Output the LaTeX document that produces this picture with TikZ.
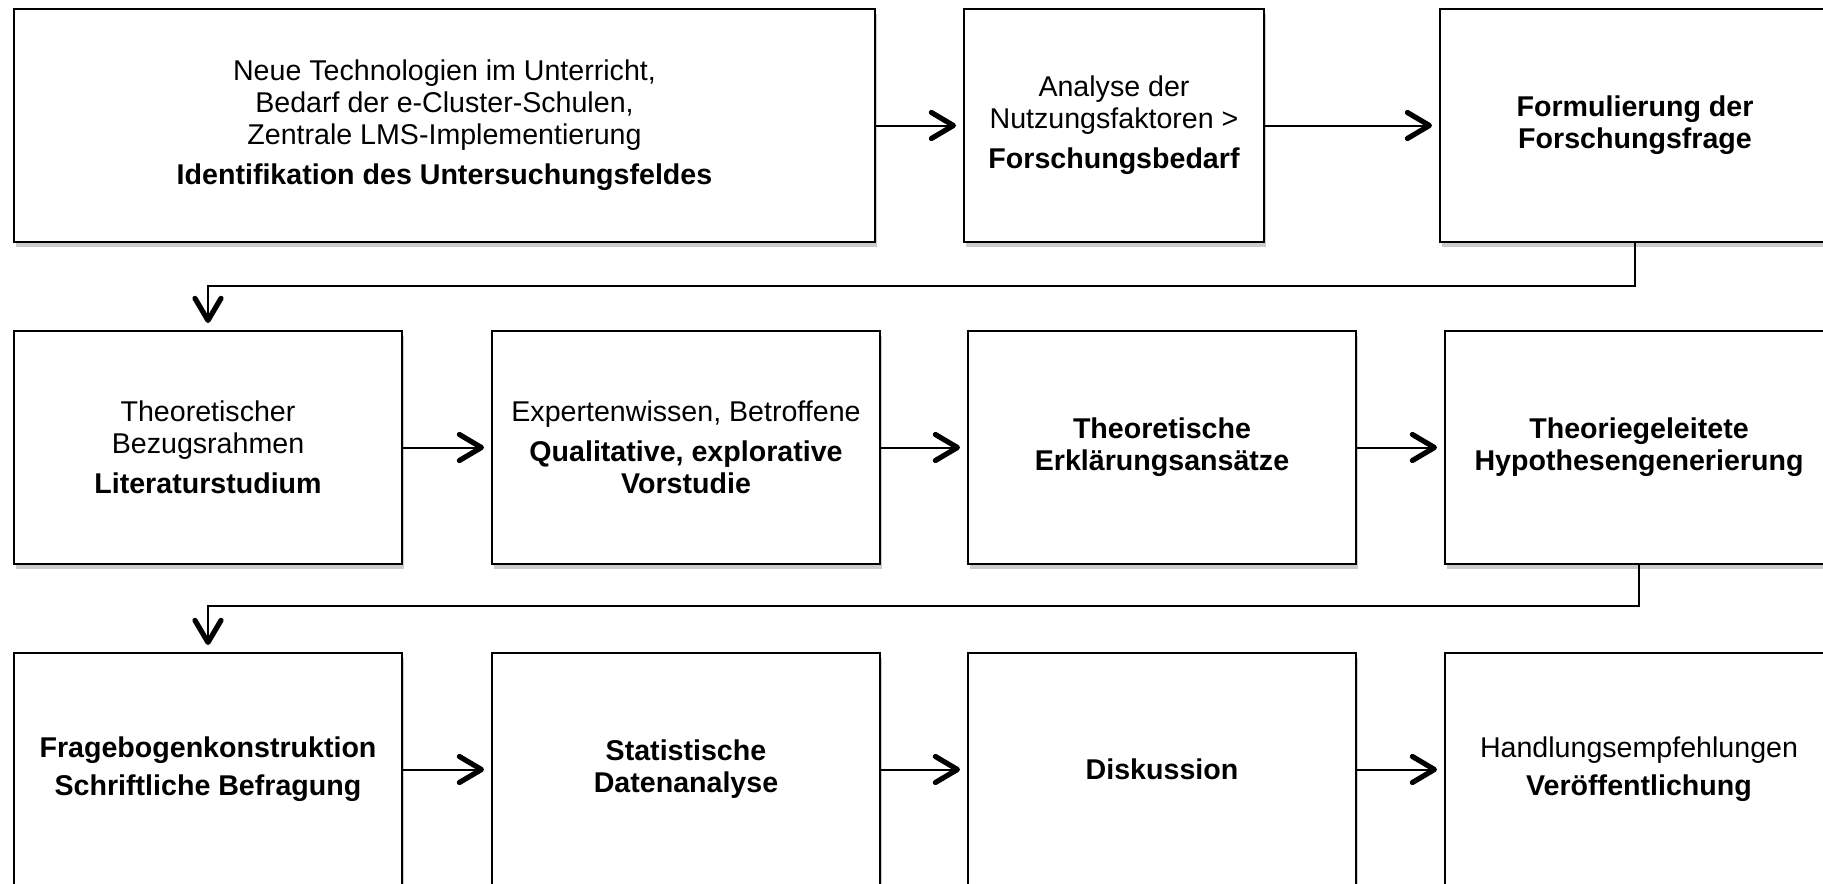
\documentclass[tikz,border=0pt]{standalone}
\usepackage{fontspec}
\setmainfont{Liberation Sans}
\usetikzlibrary{arrows.meta,shadows}

\begin{document}
\begin{tikzpicture}[x=0.5pt, y=-0.5pt,
        phasebox/.style={draw, line width=1pt, fill=white, align=center, inner sep=0pt,
            minimum height=116.5pt, minimum width=194pt,
            drop shadow={shadow xshift=0.8pt, shadow yshift=-2.5pt, fill=black!40, opacity=0.5},
            font=\fontsize{14.3}{16}\selectfont},
        flow/.style={line width=1pt, shorten >=3.5pt,
            -{Straight Barb[length=11pt, width=13pt, line width=2.6pt, round]}}]
    \useasboundingbox (0,0) rectangle (1823,883);
    \clip (0,0) rectangle (1823,883);

    % erste Reihe
    \node[phasebox, minimum width=430.5pt] (feld) at (444.5,125.5)
        {Neue Technologien im Unterricht,\\ Bedarf der e-Cluster-Schulen,\\ Zentrale LMS-Implementierung\\[4pt]
         \textbf{Identifikation des Untersuchungsfeldes}};
    \node[phasebox, minimum width=150pt] (bedarf) at (1114,125.5)
        {Analyse der\\ Nutzungsfaktoren >\\[4pt] \textbf{Forschungsbedarf}};
    \node[phasebox, minimum width=195pt] (frage) at (1635,125.5)
        {\textbf{Formulierung der}\\ \textbf{Forschungsfrage}};

    % zweite Reihe
    \node[phasebox] (lit) at (208,447.5)
        {Theoretischer\\ Bezugsrahmen\\[4pt] \textbf{Literaturstudium}};
    \node[phasebox] (vorstudie) at (686,447.5)
        {Expertenwissen, Betroffene\\[4pt] \textbf{Qualitative, explorative}\\ \textbf{Vorstudie}};
    \node[phasebox] (ansatz) at (1162,447.5)
        {\textbf{Theoretische}\\ \textbf{Erklärungsansätze}};
    \node[phasebox] (hypo) at (1639,447.5)
        {\textbf{Theoriegeleitete}\\ \textbf{Hypothesengenerierung}};

    % dritte Reihe
    \node[phasebox] (bogen) at (208,769.5)
        {\textbf{Fragebogenkonstruktion}\\[3pt] \textbf{Schriftliche Befragung}};
    \node[phasebox] (analyse) at (686,769.5)
        {\textbf{Statistische}\\ \textbf{Datenanalyse}};
    \node[phasebox] (disk) at (1162,769.5) {\textbf{Diskussion}};
    \node[phasebox] (pub) at (1639,769.5)
        {Handlungsempfehlungen\\[3pt] \textbf{Veröffentlichung}};

    \coordinate (knick1) at (208,286);
    \coordinate (knick2) at (208,606);

    \draw[flow] (feld) -- (bedarf);
    \draw[flow] (bedarf) -- (frage);
    \draw[flow] (frage.south) |- (knick1) -- (lit.north);
    \draw[flow] (lit) -- (vorstudie);
    \draw[flow] (vorstudie) -- (ansatz);
    \draw[flow] (ansatz) -- (hypo);
    \draw[flow] (hypo.south) |- (knick2) -- (bogen.north);
    \draw[flow] (bogen) -- (analyse);
    \draw[flow] (analyse) -- (disk);
    \draw[flow] (disk) -- (pub);
\end{tikzpicture}
\end{document}
